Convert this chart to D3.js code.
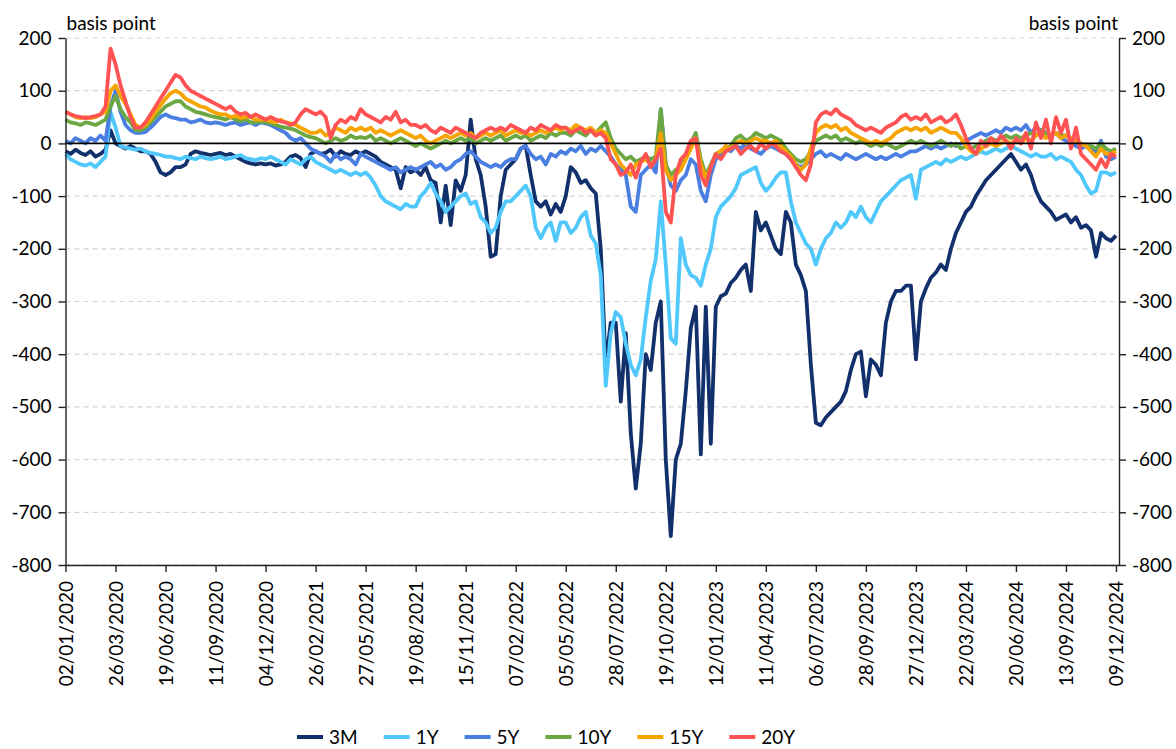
<!DOCTYPE html>
<html>
<head>
<meta charset="utf-8">
<script src="https://cdn.jsdelivr.net/npm/d3@7"></script>
<style>
  body { margin: 0; background: #fff; }
  svg { display: block; font-family: Lato, "Open Sans", sans-serif; }
</style>
</head>
<body>
<svg id="chart" width="1176" height="749"></svg>
<script>
// Category labels: one every 60 trading days
const tickLabels = [
  "02/01/2020","26/03/2020","19/06/2020","11/09/2020","04/12/2020","26/02/2021",
  "27/05/2021","19/08/2021","15/11/2021","07/02/2022","05/05/2022","28/07/2022",
  "19/10/2022","12/01/2023","11/04/2023","06/07/2023","28/09/2023","27/12/2023",
  "22/03/2024","20/06/2024","13/09/2024","09/12/2024"
];
const samplesPerLabel = 10;   // one sample every 6 trading days

// Spreads in basis points, sampled every 6 trading days
const s3M = [
  -15,-20,-12,-18,-22,-15,-25,-20,-12,25,
  0,-5,-10,-5,-10,-15,-15,-20,-35,-55,
  -60,-55,-45,-45,-40,-20,-15,-18,-20,-22,
  -20,-18,-22,-20,-25,-30,-35,-38,-40,-38,
  -40,-38,-42,-40,-35,-25,-22,-28,-45,-20,
  -15,-20,-18,-12,-25,-15,-20,-22,-15,-20,
  -15,-20,-25,-35,-40,-45,-50,-85,-45,-55,
  -50,-60,-45,-70,-75,-150,-80,-155,-70,-90,
  -60,45,-30,-60,-120,-215,-210,-100,-50,-40,
  -30,-10,-5,-60,-110,-120,-110,-135,-115,-130,
  -100,-45,-55,-75,-70,-85,-95,-200,-420,-340,
  -340,-490,-360,-550,-655,-570,-400,-430,-340,-300,
  -600,-745,-600,-570,-470,-350,-310,-590,-310,-570,
  -310,-290,-285,-265,-255,-240,-230,-280,-130,-165,
  -150,-175,-200,-210,-130,-150,-230,-250,-280,-420,
  -530,-535,-520,-510,-500,-490,-470,-430,-400,-395,
  -480,-410,-420,-440,-340,-300,-280,-280,-270,-270,
  -410,-300,-275,-255,-245,-230,-240,-200,-170,-150,
  -130,-120,-100,-85,-70,-60,-50,-40,-30,-20,
  -35,-50,-40,-60,-90,-110,-120,-130,-145,-140,
  -135,-150,-140,-160,-155,-165,-215,-170,-180,-185,
  -175
];
const s1Y = [
  -20,-30,-35,-40,-42,-38,-45,-35,-25,60,
  30,-5,-8,-10,-12,-10,-15,-18,-20,-22,
  -25,-25,-28,-30,-25,-28,-30,-25,-28,-30,
  -28,-25,-30,-28,-25,-22,-28,-30,-32,-28,
  -30,-25,-30,-35,-40,-30,-35,-40,-30,-25,
  -35,-40,-45,-50,-55,-50,-55,-60,-55,-60,
  -55,-65,-80,-100,-110,-115,-120,-125,-115,-120,
  -120,-100,-90,-75,-95,-110,-130,-120,-110,-100,
  -95,-115,-110,-140,-150,-170,-160,-130,-110,-110,
  -100,-90,-80,-100,-160,-180,-160,-150,-185,-150,
  -150,-170,-160,-140,-130,-175,-190,-250,-460,-360,
  -320,-330,-380,-420,-440,-410,-330,-260,-220,-110,
  -230,-370,-380,-180,-230,-250,-255,-270,-230,-200,
  -140,-120,-110,-100,-85,-60,-55,-50,-45,-75,
  -90,-80,-65,-55,-55,-110,-150,-170,-190,-200,
  -230,-200,-180,-170,-150,-160,-150,-130,-140,-120,
  -140,-150,-130,-110,-100,-90,-80,-70,-65,-60,
  -105,-50,-45,-40,-35,-40,-30,-35,-30,-25,
  -30,-25,-20,-15,-20,-15,-10,-15,-10,-5,
  -10,-15,-20,-25,-20,-25,-25,-20,-30,-25,
  -30,-35,-50,-60,-80,-95,-90,-55,-55,-60,
  -55
];
const s5Y = [
  5,0,10,5,0,10,5,15,5,70,
  100,60,35,25,20,20,22,30,40,50,
  55,50,48,45,45,40,42,45,40,38,
  40,38,35,38,40,35,38,40,35,40,
  38,35,30,25,20,10,5,10,0,-10,
  -15,-20,-25,-35,-20,-30,-25,-30,-40,-20,
  -25,-30,-35,-40,-45,-50,-45,-55,-50,-45,
  -50,-45,-40,-35,-45,-40,-50,-45,-35,-30,
  -20,-15,-25,-35,-40,-45,-40,-45,-35,-30,
  -30,-10,-5,-20,-30,-25,-40,-20,-25,-15,
  -20,-10,-15,-5,-20,-10,-15,-5,-15,-25,
  -40,-50,-60,-120,-130,-60,-50,-40,-55,65,
  -40,-80,-90,-70,-60,-30,-40,-90,-110,-60,
  -30,-20,-10,-15,-5,-10,0,-10,-15,-20,
  -10,-5,-10,-15,-20,-30,-40,-45,-40,-30,
  -20,-15,-25,-20,-25,-30,-20,-25,-30,-25,
  -20,-25,-30,-25,-30,-25,-20,-25,-20,-15,
  -15,-10,-5,-10,-5,-10,-5,0,-5,0,
  5,10,15,20,15,20,25,20,30,25,
  30,25,35,20,30,25,20,15,20,10,
  5,0,-5,-10,-5,-10,-15,5,-25,-30,
  -25
];
const s10Y = [
  45,40,38,35,40,38,35,40,45,70,
  90,65,50,40,25,25,30,40,50,60,
  70,75,80,80,70,65,60,58,55,52,
  50,48,45,50,45,42,45,40,40,42,
  40,38,35,32,30,28,25,20,15,12,
  10,5,0,5,10,5,8,15,10,12,
  10,15,5,10,5,0,5,10,5,0,
  -5,0,-5,-10,-5,0,5,0,5,10,
  5,10,0,5,10,5,10,15,5,10,
  15,10,15,5,10,15,10,20,15,20,
  20,15,25,20,15,25,20,30,40,10,
  -10,-20,-30,-25,-35,-30,-25,-30,-25,65,
  -40,-60,-50,-45,-20,0,20,-30,-60,-40,
  -20,-15,-10,-5,10,15,5,10,20,15,
  10,15,10,5,-10,-20,-30,-35,-30,-15,
  5,10,15,10,15,5,10,5,0,5,
  0,-5,0,-5,0,-5,-10,-5,0,5,
  0,5,0,-5,0,5,0,-5,0,-10,
  -5,-10,-5,0,5,10,5,10,15,10,
  15,10,15,20,15,25,20,15,20,15,
  15,10,5,0,-5,-5,-10,0,-10,-15,
  -10
];
const s15Y = [
  60,55,50,48,50,48,50,55,60,100,
  110,90,75,55,35,30,35,45,60,72,
  85,95,100,95,85,80,75,70,68,62,
  58,55,55,50,52,48,50,50,45,45,
  45,42,40,45,40,38,35,30,25,20,
  20,25,15,20,30,25,20,30,25,30,
  25,30,20,25,20,15,20,25,20,15,
  10,15,5,0,5,10,15,10,15,20,
  15,20,10,15,20,15,20,25,15,20,
  25,20,20,15,20,25,20,25,30,25,
  30,25,35,30,25,30,20,25,20,0,
  -20,-40,-50,-60,-40,-35,-30,-40,-30,20,
  -50,-70,-60,-50,-30,-10,10,-40,-65,-45,
  -20,-15,-5,-10,0,5,0,5,10,5,
  5,0,5,-5,-15,-25,-40,-50,-40,-10,
  20,30,35,30,35,25,30,20,15,10,
  5,0,5,0,5,10,20,25,30,25,
  30,25,30,20,25,30,25,20,20,10,
  -5,-15,-20,-10,-5,0,-5,0,5,0,
  5,0,10,5,15,20,10,15,20,10,
  15,10,5,0,-5,-15,-25,-10,-20,-20,
  -15
];
const s20Y = [
  60,55,52,50,48,50,52,55,70,180,
  150,110,80,50,30,30,40,55,70,85,
  100,115,130,125,110,100,95,90,85,80,
  75,70,65,70,60,55,58,50,55,50,
  45,50,45,42,40,35,40,55,65,60,
  55,60,50,10,35,45,40,50,45,65,
  55,50,45,40,50,45,60,40,45,35,
  35,30,35,25,20,30,25,20,30,25,
  20,15,10,20,25,30,25,30,25,35,
  30,25,20,30,25,35,30,25,35,30,
  30,20,25,30,20,25,15,20,10,-30,
  -40,-60,-55,-40,-65,-35,-20,-45,-30,-10,
  -130,-150,-60,-30,-20,5,10,-60,-80,-45,
  -20,-30,-15,-10,-5,-20,-10,-5,-15,0,
  -10,0,-5,-15,-20,-30,-45,-60,-70,-40,
  40,55,60,55,65,55,50,45,35,30,
  25,30,25,20,30,35,40,50,55,45,
  50,45,55,40,45,50,40,45,55,35,
  10,-10,-20,5,-5,10,0,15,5,-10,
  10,0,20,-10,40,10,45,0,50,20,
  45,-10,30,-20,-30,-40,-50,-30,-45,-20,
  -25
];

const seriesNames = ["3M", "1Y", "5Y", "10Y", "15Y", "20Y"];
const seriesValues = [s3M, s1Y, s5Y, s10Y, s15Y, s20Y];
const seriesColors = ["#12306b", "#50c8fb", "#4a7ee0", "#6ba843", "#f5a400", "#ff5252"];
const yTicks = [-800, -700, -600, -500, -400, -300, -200, -100, 0, 100, 200];

// Layout
const plot = { left: 65.5, right: 1119, top: 38, bottom: 565 };
const fontSize = 19;
const svg = d3.select("#chart");

const lastIndex = (tickLabels.length - 1) * samplesPerLabel;
const x = d3.scaleLinear()
  .domain([0, lastIndex + 0.6])
  .range([plot.left, plot.right]);
const y = d3.scaleLinear()
  .domain([d3.min(yTicks), d3.max(yTicks)])
  .range([plot.bottom, plot.top]);

// Dashed horizontal gridlines
svg.append("g")
  .selectAll("line")
  .data(yTicks.filter(v => v !== 0))
  .join("line")
  .attr("x1", plot.left).attr("x2", plot.right)
  .attr("y1", d => y(d)).attr("y2", d => y(d))
  .attr("stroke", "#d4d4d4")
  .attr("stroke-width", 1.2)
  .attr("stroke-dasharray", "5,4");

// Series lines, 3M underneath and 20Y on top
const line = d3.line()
  .x((d, i) => x(i))
  .y(d => y(d));

svg.append("g")
  .selectAll("path")
  .data(seriesValues)
  .join("path")
  .attr("d", d => line(d))
  .attr("fill", "none")
  .attr("stroke", (d, i) => seriesColors[i])
  .attr("stroke-width", 3.8)
  .attr("stroke-linejoin", "round")
  .attr("stroke-linecap", "butt");

// Zero line
svg.append("line")
  .attr("x1", plot.left).attr("x2", plot.right)
  .attr("y1", y(0)).attr("y2", y(0))
  .attr("stroke", "#000")
  .attr("stroke-width", 1.6);

// Axes
function styleAxis(g) {
  g.selectAll(".domain").attr("stroke", "#222").attr("stroke-width", 1.4);
  g.selectAll(".tick line").attr("stroke", "#222").attr("stroke-width", 1.4);
  g.selectAll(".tick text")
    .attr("fill", "#000")
    .style("font-family", "Lato, 'Open Sans', sans-serif")
    .style("font-size", fontSize + "px");
}
const plainNumber = d => String(d);

svg.append("g")
  .attr("transform", `translate(${plot.left},0)`)
  .call(d3.axisLeft(y).tickValues(yTicks).tickFormat(plainNumber)
    .tickSize(7).tickSizeOuter(0).tickPadding(7))
  .call(styleAxis);

svg.append("g")
  .attr("transform", `translate(${plot.right},0)`)
  .call(d3.axisRight(y).tickValues(yTicks).tickFormat(plainNumber)
    .tickSize(7).tickSizeOuter(0).tickPadding(6))
  .call(styleAxis);

const xAxis = svg.append("g")
  .attr("transform", `translate(0,${plot.bottom})`)
  .call(d3.axisBottom(x)
    .tickValues(d3.range(0, lastIndex + 1, samplesPerLabel))
    .tickFormat((d, i) => tickLabels[i])
    .tickSize(7)
    .tickSizeOuter(0))
  .call(styleAxis);

xAxis.selectAll(".tick text")
  .attr("transform", "rotate(-90)")
  .attr("text-anchor", "end")
  .attr("x", -16)
  .attr("y", 0)
  .attr("dy", "0.35em");

// Unit captions
svg.append("text")
  .attr("x", plot.left + 1).attr("y", 30)
  .attr("font-size", fontSize)
  .attr("fill", "#000")
  .text("basis point");
svg.append("text")
  .attr("x", plot.right - 1).attr("y", 30)
  .attr("text-anchor", "end")
  .attr("font-size", fontSize)
  .attr("fill", "#000")
  .text("basis point");

// Legend
const legend = svg.append("g").attr("transform", "translate(297,737)");
let lx = 0;
seriesNames.forEach((name, i) => {
  const item = legend.append("g").attr("transform", `translate(${lx},0)`);
  item.append("line")
    .attr("x1", 0).attr("x2", 26)
    .attr("y1", 0).attr("y2", 0)
    .attr("stroke", seriesColors[i])
    .attr("stroke-width", 4);
  const t = item.append("text")
    .attr("x", 32).attr("y", 0).attr("dy", "0.35em")
    .attr("font-size", fontSize)
    .attr("fill", "#000")
    .text(name);
  lx += 32 + t.node().getComputedTextLength() + 26;
});
</script>
</body>
</html>
